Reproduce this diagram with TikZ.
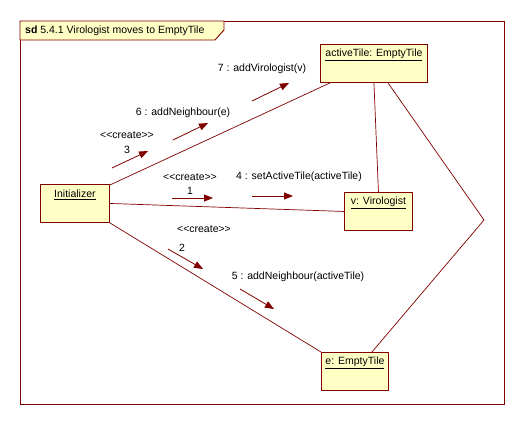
\documentclass[tikz,border=0pt]{standalone}
\usepackage{fontspec}
\setmainfont{Liberation Sans}
\usetikzlibrary{arrows.meta,calc}
\definecolor{umlred}{HTML}{800000}
\definecolor{umlfill}{HTML}{FFFFC6}
\tikzset{
  objbox/.style={draw=umlred, fill=umlfill, line width=0.9pt, inner sep=0pt, anchor=north west},
  objname/.style={anchor=center, inner sep=0pt, font=\fontsize{10.5}{12}\selectfont},
  link/.style={draw=umlred, line width=0.7pt},
  msg/.style={draw=umlred, line width=0.8pt, -{Triangle[length=9pt,width=7pt]}},
  msglabel/.style={inner sep=0pt, font=\fontsize{10.5}{12}\selectfont},
}
\begin{document}
\begin{tikzpicture}[x=1pt,y=-1pt]
\useasboundingbox (0,0) rectangle (524,424);

% frame and title tab
\draw[umlred, line width=0.9pt] (20,21) rectangle (504,404);
\draw[umlred, line width=0.9pt, fill=umlfill] (20,21) -- (224,21) -- (224,30) -- (215,40) -- (20,40) -- cycle;
\node[anchor=west, inner sep=0pt, font=\fontsize{10.5}{12}\selectfont] (title) at (25,31) {\textbf{sd} 5.4.1 Virologist moves to EmptyTile};

% objects
\node[objbox, minimum width=107, minimum height=38] (at) at (320,44) {};
\node[objname] (atname) at ($(at.north)+(0,11)$) {\underline{activeTile: EmptyTile}};
\node[objbox, minimum width=69, minimum height=38] (ini) at (40,184) {};
\node[objname] (ininame) at ($(ini.north)+(0,11)$) {\underline{Initializer}};
\node[objbox, minimum width=68, minimum height=38] (v) at (344,192) {};
\node[objname] (vname) at ($(v.north)+(0,11)$) {\underline{v: Virologist}};
\node[objbox, minimum width=67, minimum height=38] (e) at (321,352) {};
\node[objname] (ename) at ($(e.north)+(0,11)$) {\underline{e: EmptyTile}};

% links
\coordinate (bend) at (484,220);
\draw[link] ($(ini.north east)+(0,1)$) -- ($(at.south west)+(10,0)$);
\draw[link] (ini.east) -- (v.west);
\draw[link] (ini.south east) -- (e.north west);
\draw[link] (at.south) -- (v.north);
\draw[link] ($(at.south west)+(68,0)$) -- (bend) -- ($(e.north)+(17,0)$);

% messages
\coordinate (m7a) at (252,101); \coordinate (m7b) at (289,83);
\draw[msg] (m7a) -- (m7b);
\node[msglabel] (m7) at (262,69) {7 : addVirologist(v)};

\coordinate (m6a) at (173,140); \coordinate (m6b) at (208,123);
\draw[msg] (m6a) -- (m6b);
\node[msglabel] (m6) at (183,113) {6 : addNeighbour(e)};

\coordinate (m3a) at (112,168); \coordinate (m3b) at (148,151);
\draw[msg] (m3a) -- (m3b);
\node[msglabel] (m3s) at (127,135) {<{}<create>{}>};
\node[msglabel] (m3) at (127,150) {3};

\coordinate (m1a) at (172,198); \coordinate (m1b) at (213,198);
\draw[msg] (m1a) -- (m1b);
\node[msglabel] (m1s) at (190,177) {<{}<create>{}>};
\node[msglabel] (m1) at (190,191) {1};

\coordinate (m4a) at (252,196); \coordinate (m4b) at (293,196);
\draw[msg] (m4a) -- (m4b);
\node[msglabel] (m4) at (299,177) {4 : setActiveTile(activeTile)};

\coordinate (m2a) at (168,249); \coordinate (m2b) at (203,269);
\draw[msg] (m2a) -- (m2b);
\node[msglabel] (m2s) at (204,229) {<{}<create>{}>};
\node[msglabel] (m2) at (182,248) {2};

\coordinate (m5a) at (240,289); \coordinate (m5b) at (274,309);
\draw[msg] (m5a) -- (m5b);
\node[msglabel] (m5) at (298,277) {5 : addNeighbour(activeTile)};
\end{tikzpicture}
\end{document}
